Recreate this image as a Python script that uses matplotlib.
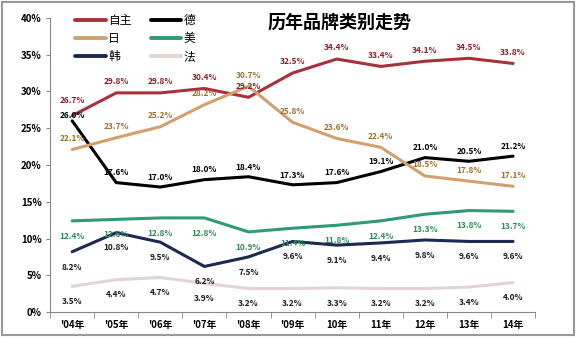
import matplotlib
matplotlib.use("Agg")
import matplotlib.pyplot as plt
from matplotlib.patches import Rectangle

plt.rcParams['font.family'] = ['Noto Sans CJK SC', 'DejaVu Sans']

YEARS = ["'04年", "'05年", "'06年", "'07年", "'08年", "'09年", "10年", "11年", "12年", "13年", "14年"]
ZIZHU = [26.7, 29.8, 29.8, 30.4, 29.2, 32.5, 34.4, 33.4, 34.1, 34.5, 33.8]
DE    = [26.0, 17.6, 17.0, 18.0, 18.4, 17.3, 17.6, 19.1, 21.0, 20.5, 21.2]
RI    = [22.1, 23.7, 25.2, 28.2, 30.7, 25.8, 23.6, 22.4, 18.5, 17.8, 17.1]
MEI   = [12.4, 12.6, 12.8, 12.8, 10.9, 11.4, 11.8, 12.4, 13.3, 13.8, 13.7]
HAN   = [8.2, 10.8, 9.5, 6.2, 7.5, 9.6, 9.1, 9.4, 9.8, 9.6, 9.6]
FA    = [3.5, 4.4, 4.7, 3.9, 3.2, 3.2, 3.3, 3.2, 3.2, 3.4, 4.0]

# name, values, line colour, label colour, label offset (pt)
SERIES = [
    ("自主", ZIZHU, "#A8303C", "#8B1E28", 8),
    ("德",   DE,    "#000000", "#000000", 7),
    ("日",   RI,    "#D2A06C", "#A0702C", 8),
    ("美",   MEI,   "#2E9B74", "#2E8B5A", -11),
    ("韩",   HAN,   "#1C2A52", "#1A1A1A", -11),
    ("法",   FA,    "#E2D4D2", "#1A1A1A", -11),
]
# the '04 labels of 自主 and 德 crowd each other
NUDGE = {("自主", 0): 11, ("德", 0): 4}

fig = plt.figure(figsize=(5.76, 3.37), dpi=100)
ax = fig.add_axes([0.087, 0.074, 0.842, 0.873])
x = list(range(len(YEARS)))

handles = {}
for name, vals, lc, tc, off in SERIES:
    handles[name], = ax.plot(x, vals, color=lc, lw=2.2, label=name, solid_capstyle="round")
    for xi, v in zip(x, vals):
        o = NUDGE.get((name, xi), off)
        ax.annotate(f"{v:.1f}%", (xi, v), xytext=(0, o), textcoords="offset points",
                    ha="center", va="center", fontsize=6, fontweight="bold", color=tc)

ax.set_xlim(-0.5, len(YEARS) - 0.5)
ax.set_ylim(0, 40)
ax.set_yticks(range(0, 41, 5))
ax.set_yticklabels([f"{t}%" for t in range(0, 41, 5)], fontsize=7, fontweight="bold")
ax.set_xticks(x)
ax.set_xticklabels(YEARS, fontsize=7, fontweight="bold")
ax.set_xticks([i - 0.5 for i in range(len(YEARS) + 1)], minor=True)
ax.tick_params(axis="x", which="major", length=0, pad=6)
ax.tick_params(axis="x", which="minor", length=4, color="#888888")
ax.tick_params(axis="y", length=3, color="#888888", pad=3)
for s in ["top", "right"]:
    ax.spines[s].set_visible(False)
for s in ["left", "bottom"]:
    ax.spines[s].set_color("#888888")
    ax.spines[s].set_linewidth(0.8)

# row-wise legend: 自主 德 / 日 美 / 韩 法
order = ["自主", "日", "韩", "德", "美", "法"]
leg = ax.legend([handles[n] for n in order], order, loc="upper left", ncol=2, frameon=False,
                fontsize=8.5, handlelength=2.6, columnspacing=1.6, labelspacing=0.45,
                handletextpad=0.2, bbox_to_anchor=(0.03, 1.05))
for h in leg.get_lines():
    h.set_linewidth(2.8)

fig.text(0.59, 0.935, "历年品牌类别走势", fontsize=13, fontweight="bold", ha="center", va="center")

fig.patches.append(Rectangle((0.003, 0.005), 0.994, 0.99, transform=fig.transFigure,
                             fill=False, edgecolor="#999999", lw=1.5))

fig.savefig("out.png", dpi=100)
